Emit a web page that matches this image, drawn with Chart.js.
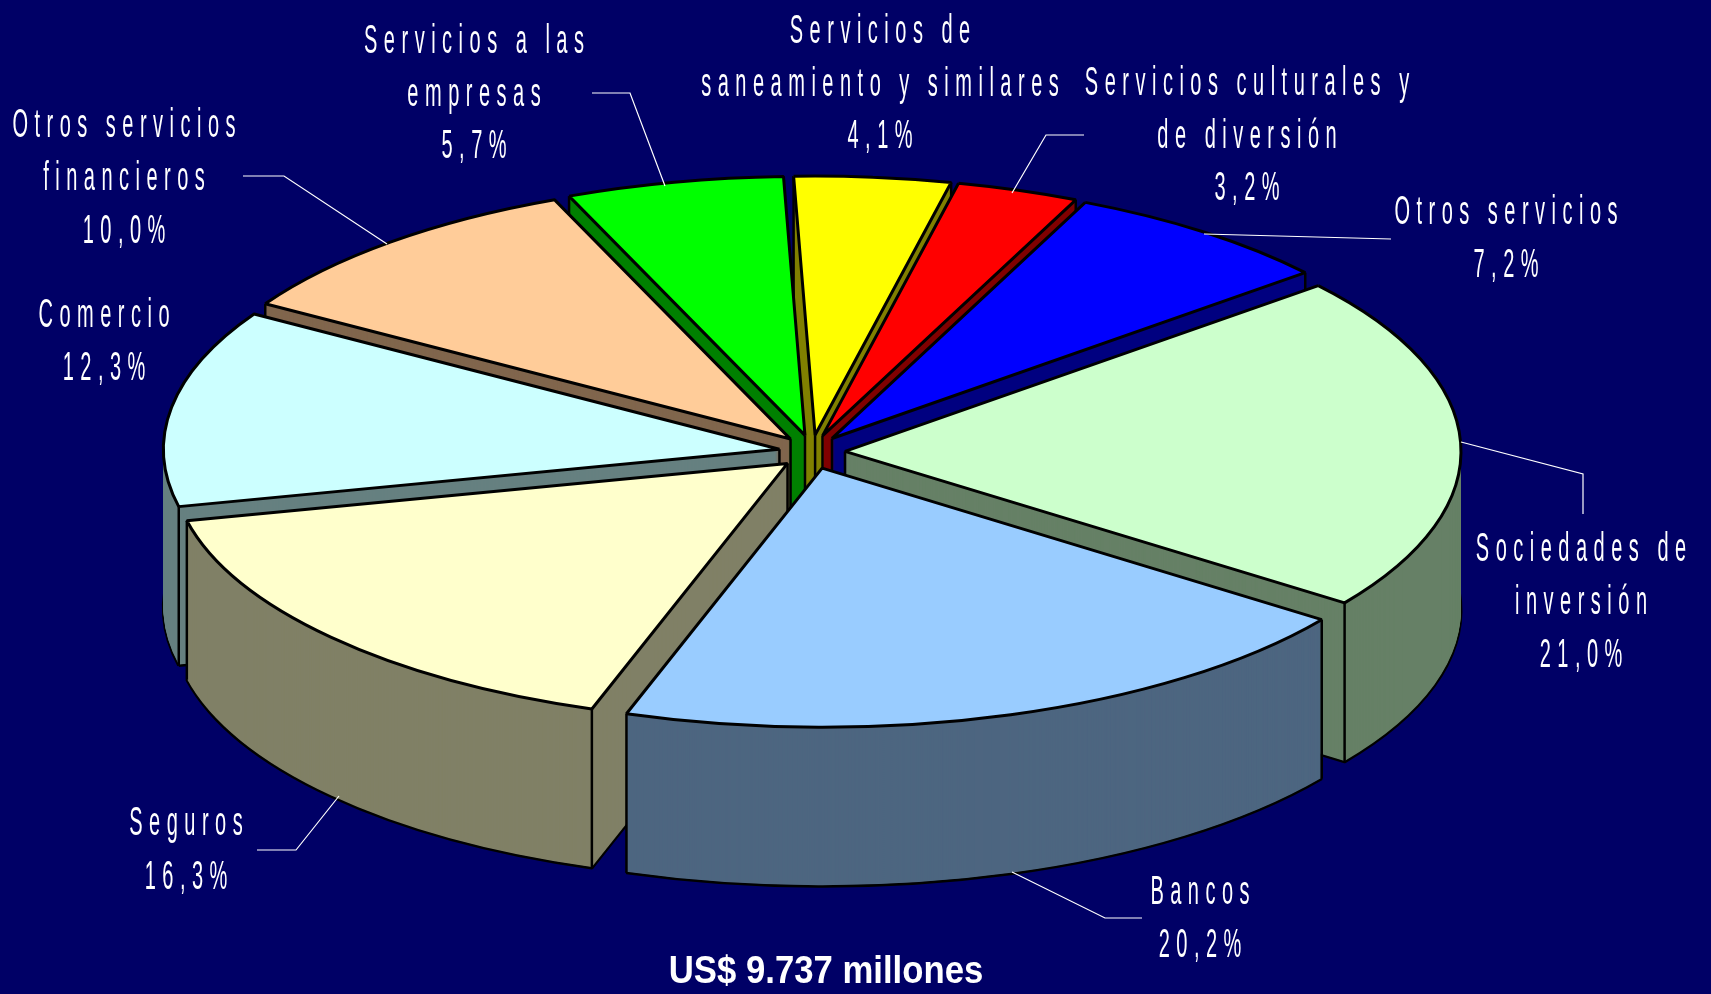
<!DOCTYPE html>
<html>
<head>
<meta charset="utf-8">
<script src="https://cdn.jsdelivr.net/npm/chart.js@4.4.0/dist/chart.umd.min.js"></script>
<style>
html,body{margin:0;padding:0;background:#000066;overflow:hidden}
canvas{display:block}
</style>
</head>
<body>
<canvas id="c" width="1711" height="994"></canvas>
<script>
// ---- data ----
const categories = [
  'Servicios de saneamiento y similares',
  'Servicios culturales y de diversión',
  'Otros servicios',
  'Sociedades de inversión',
  'Bancos',
  'Seguros',
  'Comercio',
  'Otros servicios financieros',
  'Servicios a las empresas'
];
const shares = [4.1, 3.2, 7.2, 21.0, 20.2, 16.3, 12.3, 10.0, 5.7];
const labelLines = [
  ['Servicios de', 'saneamiento y similares'],
  ['Servicios culturales y', 'de diversión'],
  ['Otros servicios'],
  ['Sociedades de', 'inversión'],
  ['Bancos'],
  ['Seguros'],
  ['Comercio'],
  ['Otros servicios', 'financieros'],
  ['Servicios a las', 'empresas']
];
const totalText = 'US$ 9.737 millones';

// ---- styles ----
const topColors  = ['#FFFF00', '#FF0000', '#0000FF', '#CCFFCC', '#99CCFF', '#FFFFCC', '#CCFFFF', '#FFCC99', '#00FF00'];
const sideColors = ['#808000', '#800000', '#000080', '#668066', '#4D6680', '#808066', '#668080', '#80664D', '#008000'];
// label layout: centre x, first baseline, line height
const labelLayout = [
  {x: 880, y: 43, lh: 52.5},
  {x: 1247, y: 95, lh: 52.5},
  {x: 1506, y: 224, lh: 53},
  {x: 1581, y: 561, lh: 53},
  {x: 1200, y: 904, lh: 53},
  {x: 186, y: 835, lh: 54},
  {x: 104, y: 327, lh: 53},
  {x: 124, y: 137, lh: 53},
  {x: 474, y: 53, lh: 52.5}
];
const leaderLines = [
  null,
  [[1084,135],[1046,135],[1012,193]],
  [[1391,239],[1204,234]],
  [[1583,514],[1583,474],[1461,442]],
  [[1142,918],[1105,918],[1012,872]],
  [[257,850],[296,850],[339,796]],
  null,
  [[243,176],[284,176],[387,244]],
  [[592,93],[630,93],[665,186]]
];

const CX = 812, CY = 452;
const RX = 616, K = 259 / 616;
const DEPTH = 159, EX = 33, EY = 17;

function variant(arc, opts) {
  const o = Object.create(arc);
  o.options = Object.assign({}, arc.options, opts);
  return o;
}
function drawUniform(ctx, el) {
  const orig = ctx.stroke;
  ctx.stroke = function () {
    this.save();
    this.setTransform(1, 0, 0, 1, 0, 0);
    orig.apply(this, arguments);
    this.restore();
  };
  try { el.draw(ctx); } finally { delete ctx.stroke; }
}

const pie3d = {
  id: 'pie3d',
  beforeDraw(chart) {
    const ctx = chart.ctx;
    ctx.save();
    ctx.fillStyle = '#000066';
    ctx.fillRect(0, 0, chart.width, chart.height);
    ctx.restore();
  },
  beforeDatasetsDraw(chart) {
    const ctx = chart.ctx;
    const arcs = chart.getDatasetMeta(0).data;
    const mid = a => (a.startAngle + a.endAngle) / 2;
    const order = arcs.map((a, i) => i).sort((i, j) => Math.sin(mid(arcs[i])) - Math.sin(mid(arcs[j])));
    for (const i of order) {
      const a = arcs[i];
      const m = mid(a);
      const ox = Math.cos(m) * EX, oy = Math.sin(m) * EY;
      const cx = a.x, cy = a.y, R = a.outerRadius;
      const place = (d) => {
        ctx.translate(ox, oy + d);
        ctx.translate(cx, cy);
        ctx.scale(1, K);
        ctx.translate(-cx, -cy);
      };
      const wall = variant(a, {backgroundColor: sideColors[i], borderWidth: 0});
      const bottom = variant(a, {backgroundColor: sideColors[i], borderColor: '#000', borderWidth: 3});
      ctx.save(); place(DEPTH); drawUniform(ctx, bottom); ctx.restore();
      for (let d = DEPTH - 1; d >= 1; d--) {
        ctx.save(); place(d); wall.draw(ctx); ctx.restore();
      }
      // vertical edges (only those not hidden behind the slice itself)
      const sx0 = cx + ox, sy0 = cy + oy;
      const insideBelow = (px, py) => {
        const ux = px - sx0, uy = (py + 3 - sy0) / K;
        if (Math.hypot(ux, uy) > R - 0.5) return false;
        let t = Math.atan2(uy, ux);
        while (t < a.startAngle) t += 2 * Math.PI;
        while (t >= a.startAngle + 2 * Math.PI) t -= 2 * Math.PI;
        return t <= a.endAngle;
      };
      const pts = [
        [sx0, sy0],
        [sx0 + R * Math.cos(a.startAngle), sy0 + R * K * Math.sin(a.startAngle)],
        [sx0 + R * Math.cos(a.endAngle), sy0 + R * K * Math.sin(a.endAngle)]
      ];
      ctx.save();
      ctx.strokeStyle = '#000';
      ctx.lineWidth = 2.5;
      for (const p of pts) {
        if (insideBelow(p[0], p[1])) continue;
        ctx.beginPath();
        ctx.moveTo(p[0], p[1]);
        ctx.lineTo(p[0], p[1] + DEPTH);
        ctx.stroke();
      }
      ctx.restore();
      // top face
      ctx.save(); place(0); drawUniform(ctx, a); ctx.restore();
    }
    return false;
  }
};

function spacedText(ctx, text, cx, baseline, size, sx, spacing, bold) {
  ctx.save();
  ctx.font = (bold ? 'bold ' : '') + size + 'px "Liberation Sans", Arial, sans-serif';
  ctx.letterSpacing = spacing + 'px';
  const w = ctx.measureText(text).width - spacing;
  ctx.translate(cx, baseline);
  ctx.scale(sx, 1);
  ctx.textAlign = 'left';
  ctx.textBaseline = 'alphabetic';
  ctx.fillStyle = '#FFFFFF';
  ctx.fillText(text, -w / 2, 0);
  ctx.restore();
}

const labelsPlugin = {
  id: 'labels3d',
  afterDraw(chart) {
    const ctx = chart.ctx;
    ctx.save();
    ctx.strokeStyle = '#FFFFFF';
    ctx.lineWidth = 1.2;
    leaderLines.forEach(pl => {
      if (!pl) return;
      ctx.beginPath();
      ctx.moveTo(pl[0][0], pl[0][1]);
      for (let k = 1; k < pl.length; k++) ctx.lineTo(pl[k][0], pl[k][1]);
      ctx.stroke();
    });
    ctx.restore();
    categories.forEach((c, i) => {
      const lines = labelLines[i].concat([shares[i].toFixed(1).replace('.', ',') + '%']);
      const L = labelLayout[i];
      lines.forEach((t, j) => spacedText(ctx, t, L.x, L.y + j * L.lh, 40, 0.5, 13, false));
    });
    spacedText(ctx, totalText, 826, 983, 39, 0.89, 0, true);
  }
};

new Chart(document.getElementById('c').getContext('2d'), {
  type: 'pie',
  data: {
    labels: categories,
    datasets: [{
      data: shares,
      backgroundColor: topColors,
      borderColor: '#000000',
      borderWidth: 3,
      radius: RX,
      rotation: -2
    }]
  },
  options: {
    responsive: false,
    animation: false,
    events: [],
    layout: {padding: {left: 0, right: 1711 - 2 * CX, top: 0, bottom: 994 - 2 * CY}},
    plugins: {legend: {display: false}, tooltip: {enabled: false}, title: {display: false}}
  },
  plugins: [pie3d, labelsPlugin]
});
</script>
</body>
</html>
